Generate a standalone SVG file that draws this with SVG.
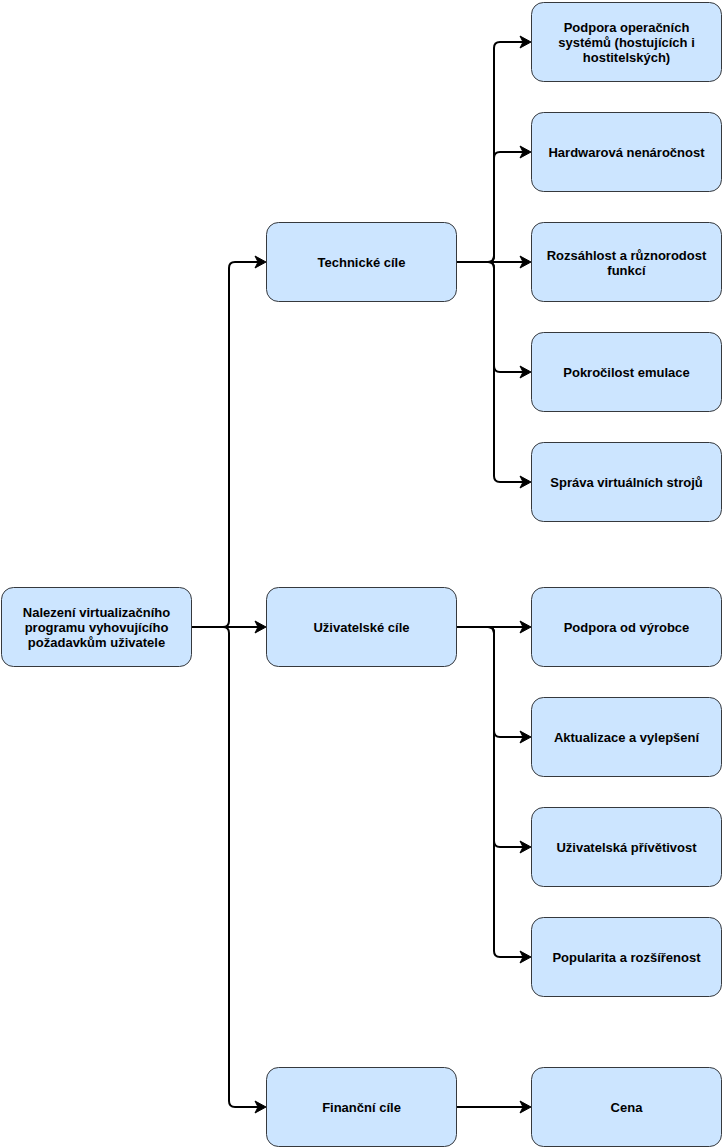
<svg xmlns="http://www.w3.org/2000/svg" width="723" height="1148" viewBox="0 0 723 1148">
<style>
.n rect{fill:#cce5ff;stroke:#36393d;stroke-width:1}
.n text{font-family:"Liberation Sans",Arial,sans-serif;font-weight:bold;font-size:13px;fill:#000;text-anchor:middle}
.c path{fill:none;stroke:#000;stroke-width:2;marker-end:url(#a)}
</style>
<defs>
<marker id="a" markerUnits="userSpaceOnUse" markerWidth="12" markerHeight="12" refX="3" refY="6" orient="auto" overflow="visible">
<path d="M0,0 L11,6 L0,12 L3,6 Z" fill="#000" stroke="#000" stroke-width="1"/>
</marker>
</defs>
<rect width="723" height="1148" fill="#fff"/>
<g id="connectors" class="c">
<path d="M192,627 L223,627 Q229,627 229,621 L229,268 Q229,262 235,262 L258,262"/>
<path d="M192,627 L258,627"/>
<path d="M192,627 L223,627 Q229,627 229,633 L229,1101 Q229,1107 235,1107 L258,1107"/>
<path d="M457,262 L488,262 Q494,262 494,256 L494,48 Q494,42 500,42 L523,42"/>
<path d="M457,262 L488,262 Q494,262 494,256 L494,158 Q494,152 500,152 L523,152"/>
<path d="M457,262 L523,262"/>
<path d="M457,262 L488,262 Q494,262 494,268 L494,366 Q494,372 500,372 L523,372"/>
<path d="M457,262 L488,262 Q494,262 494,268 L494,476 Q494,482 500,482 L523,482"/>
<path d="M457,627 L523,627"/>
<path d="M457,627 L488,627 Q494,627 494,633 L494,731 Q494,737 500,737 L523,737"/>
<path d="M457,627 L488,627 Q494,627 494,633 L494,841 Q494,847 500,847 L523,847"/>
<path d="M457,627 L488,627 Q494,627 494,633 L494,951 Q494,957 500,957 L523,957"/>
<path d="M457,1107 L523,1107"/>
</g>
<g id="root" class="n"><rect x="1.5" y="587.5" width="190" height="79" rx="12"/>
<text x="96.5" y="616.5">Nalezení virtualizačního</text><text x="96.5" y="631.5">programu vyhovujícího</text><text x="96.5" y="646.5">požadavkům uživatele</text></g>
<g id="technicke" class="n"><rect x="266.5" y="222.5" width="190" height="79" rx="12"/><text x="361.5" y="266.5">Technické cíle</text></g>
<g id="uzivatelske" class="n"><rect x="266.5" y="587.5" width="190" height="79" rx="12"/><text x="361.5" y="631.5">Uživatelské cíle</text></g>
<g id="financni" class="n"><rect x="266.5" y="1067.5" width="190" height="79" rx="12"/><text x="361.5" y="1111.5">Finanční cíle</text></g>
<g id="os" class="n"><rect x="531.5" y="2.5" width="190" height="79" rx="12"/>
<text x="626.5" y="31.5">Podpora operačních</text><text x="626.5" y="46.5">systémů (hostujících i</text><text x="626.5" y="61.5">hostitelských)</text></g>
<g id="hw" class="n"><rect x="531.5" y="112.5" width="190" height="79" rx="12"/><text x="626.5" y="156.5">Hardwarová nenáročnost</text></g>
<g id="funkce" class="n"><rect x="531.5" y="222.5" width="190" height="79" rx="12"/>
<text x="626.5" y="259.5">Rozsáhlost a různorodost</text><text x="626.5" y="274.5">funkcí</text></g>
<g id="emulace" class="n"><rect x="531.5" y="332.5" width="190" height="79" rx="12"/><text x="626.5" y="376.5">Pokročilost emulace</text></g>
<g id="sprava" class="n"><rect x="531.5" y="442.5" width="190" height="79" rx="12"/><text x="626.5" y="486.5">Správa virtuálních strojů</text></g>
<g id="vyrobce" class="n"><rect x="531.5" y="587.5" width="190" height="79" rx="12"/><text x="626.5" y="631.5">Podpora od výrobce</text></g>
<g id="aktualizace" class="n"><rect x="531.5" y="697.5" width="190" height="79" rx="12"/><text x="626.5" y="741.5">Aktualizace a vylepšení</text></g>
<g id="privetivost" class="n"><rect x="531.5" y="807.5" width="190" height="79" rx="12"/><text x="626.5" y="851.5">Uživatelská přívětivost</text></g>
<g id="popularita" class="n"><rect x="531.5" y="917.5" width="190" height="79" rx="12"/><text x="626.5" y="961.5">Popularita a rozšířenost</text></g>
<g id="cena" class="n"><rect x="531.5" y="1067.5" width="190" height="79" rx="12"/><text x="626.5" y="1111.5">Cena</text></g>
</svg>
